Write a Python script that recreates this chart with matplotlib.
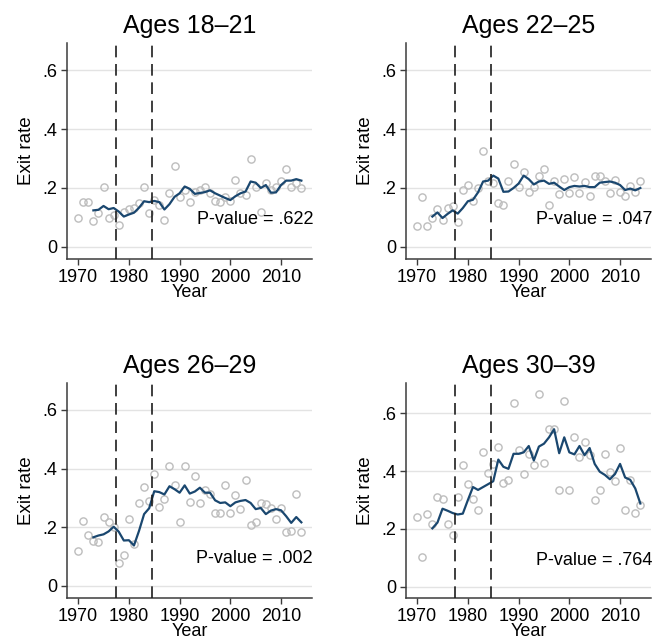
import matplotlib
matplotlib.use("Agg")
import matplotlib.pyplot as plt
import numpy as np

plt.rcParams['font.family'] = ['Liberation Sans', 'DejaVu Sans']

years = list(range(1970, 2015))
line_years = list(range(1973, 2015))

titles = ["Ages 18\u201321", "Ages 22\u201325", "Ages 26\u201329", "Ages 30\u201339"]
pvalues = ["P-value = .622", "P-value = .047", "P-value = .002", "P-value = .764"]

pts_18_21 = [0.099, 0.153, 0.151, 0.089, 0.115, 0.204, 0.099, 0.109, 0.074, 0.118,
             0.130, 0.132, 0.149, 0.203, 0.115, 0.160, 0.143, 0.091, 0.183, 0.275,
             0.171, 0.194, 0.152, 0.185, 0.194, 0.204, 0.183, 0.156, 0.151, 0.171,
             0.157, 0.227, 0.183, 0.177, 0.297, 0.204, 0.118, 0.217, 0.194, 0.205,
             0.222, 0.264, 0.205, 0.217, 0.200]
line_18_21 = [0.124, 0.126, 0.139, 0.128, 0.132, 0.120, 0.103, 0.110, 0.116, 0.133,
              0.155, 0.152, 0.156, 0.152, 0.127, 0.145, 0.170, 0.182, 0.205, 0.197,
              0.180, 0.183, 0.186, 0.192, 0.182, 0.174, 0.166, 0.159, 0.172, 0.182,
              0.188, 0.222, 0.218, 0.200, 0.210, 0.184, 0.185, 0.210, 0.225, 0.225,
              0.230, 0.225]

pts_22_25 = [0.070, 0.171, 0.070, 0.097, 0.129, 0.092, 0.132, 0.138, 0.085, 0.192,
             0.209, 0.155, 0.200, 0.324, 0.222, 0.217, 0.149, 0.143, 0.224, 0.282,
             0.202, 0.253, 0.185, 0.205, 0.241, 0.266, 0.141, 0.224, 0.179, 0.231,
             0.183, 0.236, 0.183, 0.219, 0.174, 0.239, 0.242, 0.222, 0.183, 0.226,
             0.186, 0.174, 0.208, 0.187, 0.224]
line_22_25 = [0.103, 0.117, 0.098, 0.112, 0.124, 0.113, 0.132, 0.155, 0.160, 0.185,
              0.222, 0.225, 0.242, 0.232, 0.187, 0.188, 0.200, 0.215, 0.242, 0.230,
              0.212, 0.222, 0.225, 0.214, 0.218, 0.205, 0.193, 0.203, 0.207, 0.205,
              0.207, 0.203, 0.203, 0.218, 0.220, 0.222, 0.218, 0.210, 0.193, 0.198,
              0.192, 0.200]

pts_26_29 = [0.118, 0.220, 0.175, 0.154, 0.149, 0.236, 0.218, 0.200, 0.079, 0.106,
             0.227, 0.144, 0.282, 0.338, 0.290, 0.383, 0.269, 0.296, 0.408, 0.345,
             0.217, 0.408, 0.285, 0.374, 0.282, 0.327, 0.315, 0.250, 0.248, 0.343,
             0.248, 0.311, 0.262, 0.360, 0.207, 0.217, 0.284, 0.279, 0.265, 0.229,
             0.265, 0.185, 0.188, 0.312, 0.185]
line_26_29 = [0.166, 0.172, 0.176, 0.186, 0.202, 0.185, 0.155, 0.156, 0.138, 0.188,
              0.245, 0.265, 0.323, 0.320, 0.312, 0.340, 0.330, 0.318, 0.343, 0.315,
              0.322, 0.335, 0.318, 0.318, 0.292, 0.283, 0.285, 0.272, 0.285, 0.290,
              0.293, 0.283, 0.262, 0.266, 0.245, 0.257, 0.262, 0.258, 0.238, 0.215,
              0.235, 0.217]

pts_30_39 = [0.240, 0.104, 0.250, 0.217, 0.312, 0.303, 0.217, 0.179, 0.312, 0.420,
             0.355, 0.303, 0.265, 0.467, 0.395, 0.425, 0.482, 0.360, 0.368, 0.637,
             0.473, 0.389, 0.459, 0.421, 0.667, 0.429, 0.545, 0.545, 0.335, 0.643,
             0.335, 0.519, 0.450, 0.500, 0.456, 0.300, 0.335, 0.459, 0.396, 0.367,
             0.481, 0.265, 0.368, 0.254, 0.283]
line_30_39 = [0.202, 0.222, 0.270, 0.263, 0.255, 0.250, 0.253, 0.300, 0.345, 0.335,
              0.345, 0.355, 0.365, 0.440, 0.415, 0.408, 0.460, 0.460, 0.465, 0.487,
              0.437, 0.485, 0.495, 0.517, 0.545, 0.462, 0.517, 0.465, 0.458, 0.487,
              0.455, 0.480, 0.425, 0.398, 0.387, 0.372, 0.390, 0.425, 0.378, 0.370,
              0.340, 0.288]

points = [pts_18_21, pts_22_25, pts_26_29, pts_30_39]
lines = [line_18_21, line_22_25, line_26_29, line_30_39]
breaks = [1977.5, 1984.5]
yticks = [0, 0.2, 0.4, 0.6]
ytick_labels = ["0", ".2", ".4", ".6"]
xticks = [1970, 1980, 1990, 2000, 2010]

W, H = 656, 643
fig = plt.figure(figsize=(W / 100, H / 100), dpi=100)
fig.patch.set_facecolor('white')

# axes boxes in pixels: (left, top, right, bottom)
boxes = [(67, 43, 312, 259), (406, 43, 651, 259),
         (67, 383, 312, 598), (406, 383, 651, 598)]
ylims = [(-0.041, 0.692), (-0.041, 0.692), (-0.041, 0.692), (-0.039, 0.705)]

axis_col = '#3c3c3c'
for i in range(4):
    l, t, r, b = boxes[i]
    ax = fig.add_axes([l / W, 1 - b / H, (r - l) / W, (b - t) / H])
    ax.set_xlim(1967.8, 2016.1)
    ax.set_ylim(*ylims[i])
    for y in yticks:
        ax.axhline(y, color='#e3e3e3', lw=1.0, zorder=0)
    ax.plot(years, points[i], linestyle='none', marker='o', ms=5.2,
            mfc='none', mec='#bdbdbd', mew=1.0, zorder=2)
    ax.plot(line_years, lines[i], color='#1a476f', lw=1.6, zorder=3)
    for bx in breaks:
        ax.axvline(bx, color='#1e1e1e', lw=1.2, dashes=(7, 4), zorder=4)
    ax.set_yticks(yticks)
    ax.set_yticklabels(ytick_labels)
    ax.set_xticks(xticks)
    for s in ['top', 'right']:
        ax.spines[s].set_visible(False)
    for s in ['left', 'bottom']:
        ax.spines[s].set_color(axis_col)
        ax.spines[s].set_linewidth(1.1)
    ax.tick_params(axis='both', direction='out', length=4, width=1.0,
                   color=axis_col, labelsize=13, pad=3)
    ax.set_title(titles[i], fontsize=18, pad=7)
    ax.set_xlabel("Year", fontsize=13, labelpad=-1)
    ax.set_ylabel("Exit rate", fontsize=13.5, labelpad=5)
    ax.text(2016.3, 0.092, pvalues[i], ha='right', va='center', fontsize=13)

fig.savefig("out.png", dpi=100, facecolor='white')
